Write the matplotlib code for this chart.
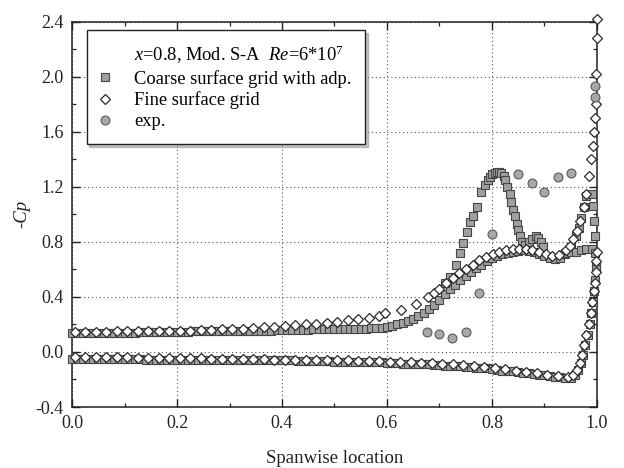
import matplotlib
matplotlib.use("Agg")
import matplotlib.pyplot as plt
from matplotlib.lines import Line2D
from matplotlib.ticker import MultipleLocator

plt.rcParams['font.family'] = ['Liberation Serif', 'DejaVu Serif']
plt.rcParams['mathtext.fontset'] = 'custom'
plt.rcParams['mathtext.rm'] = 'Liberation Serif'
plt.rcParams['mathtext.it'] = 'Liberation Serif:italic'

# ---------------- data ----------------
# Fine surface grid (diamonds)
fine_upper_x = [0.005, 0.025, 0.045, 0.065, 0.085, 0.105, 0.125, 0.145, 0.165, 0.185,
                0.205, 0.225, 0.245, 0.265, 0.285, 0.305, 0.325, 0.345, 0.365, 0.385,
                0.405, 0.425, 0.445, 0.465, 0.485, 0.505, 0.525, 0.545, 0.565, 0.585,
                0.597, 0.627, 0.656, 0.678, 0.690, 0.700, 0.712, 0.725, 0.738, 0.751,
                0.764, 0.776, 0.789, 0.801, 0.814, 0.827, 0.840, 0.852, 0.865, 0.877,
                0.890, 0.903, 0.915, 0.928, 0.941, 0.948, 0.955, 0.962, 0.968, 0.975,
                0.980, 0.985, 0.989, 0.992, 0.994, 0.996, 0.998, 0.999, 1.000, 1.000]
fine_upper_y = [0.145, 0.145, 0.145, 0.145, 0.150, 0.150, 0.150, 0.150, 0.150, 0.150,
                0.155, 0.155, 0.160, 0.160, 0.165, 0.165, 0.170, 0.175, 0.180, 0.185,
                0.190, 0.195, 0.200, 0.205, 0.210, 0.220, 0.230, 0.240, 0.250, 0.265,
                0.280, 0.305, 0.350, 0.400, 0.430, 0.460, 0.500, 0.540, 0.575, 0.605,
                0.635, 0.665, 0.690, 0.710, 0.725, 0.740, 0.745, 0.750, 0.745, 0.740,
                0.725, 0.710, 0.700, 0.705, 0.740, 0.770, 0.820, 0.880, 0.950, 1.050,
                1.150, 1.280, 1.400, 1.500, 1.600, 1.700, 1.800, 2.020, 2.280, 2.420]

fine_lower_x = [0.005, 0.025, 0.045, 0.065, 0.085, 0.105, 0.125, 0.145, 0.165, 0.185,
                0.205, 0.225, 0.245, 0.265, 0.285, 0.305, 0.325, 0.345, 0.365, 0.385,
                0.405, 0.425, 0.445, 0.465, 0.485, 0.505, 0.525, 0.545, 0.565, 0.585,
                0.605, 0.625, 0.645, 0.665, 0.685, 0.705, 0.725, 0.745, 0.765, 0.785,
                0.805, 0.825, 0.845, 0.865, 0.885, 0.905, 0.925, 0.945, 0.955, 0.962,
                0.967, 0.972, 0.976, 0.980, 0.984, 0.988, 0.991, 0.994, 0.996, 0.998,
                0.999, 1.000]
fine_lower_y = [-0.040, -0.040, -0.040, -0.040, -0.040, -0.040, -0.045, -0.045, -0.045, -0.045,
                -0.045, -0.045, -0.045, -0.050, -0.050, -0.050, -0.050, -0.050, -0.050, -0.055,
                -0.055, -0.055, -0.055, -0.060, -0.060, -0.060, -0.060, -0.065, -0.065, -0.065,
                -0.070, -0.070, -0.075, -0.080, -0.080, -0.085, -0.090, -0.095, -0.100, -0.110,
                -0.115, -0.125, -0.135, -0.145, -0.155, -0.165, -0.175, -0.180, -0.165, -0.130,
                -0.080, -0.020, 0.050, 0.120, 0.200, 0.280, 0.360, 0.440, 0.500, 0.580,
                0.660, 0.730]

# Coarse surface grid with adaptation (squares)
coarse_upper_x = [0.00, 0.01, 0.02, 0.03, 0.04, 0.05, 0.06, 0.07, 0.08, 0.09,
                  0.10, 0.11, 0.12, 0.13, 0.14, 0.15, 0.16, 0.17, 0.18, 0.19,
                  0.20, 0.21, 0.22, 0.23, 0.24, 0.25, 0.26, 0.27, 0.28, 0.29,
                  0.30, 0.31, 0.32, 0.33, 0.34, 0.35, 0.36, 0.37, 0.38, 0.39,
                  0.40, 0.41, 0.42, 0.43, 0.44, 0.45, 0.46, 0.47, 0.48, 0.49,
                  0.50, 0.51, 0.52, 0.53, 0.54, 0.55, 0.56, 0.57, 0.58, 0.59]
coarse_upper_y = [0.140, 0.140, 0.140, 0.140, 0.140, 0.140, 0.140, 0.140, 0.140, 0.140,
                  0.140, 0.140, 0.140, 0.145, 0.145, 0.145, 0.145, 0.145, 0.145, 0.145,
                  0.145, 0.145, 0.145, 0.150, 0.150, 0.150, 0.150, 0.150, 0.150, 0.150,
                  0.150, 0.150, 0.155, 0.155, 0.155, 0.155, 0.155, 0.155, 0.155, 0.160,
                  0.160, 0.160, 0.160, 0.160, 0.160, 0.160, 0.165, 0.165, 0.165, 0.165,
                  0.165, 0.165, 0.165, 0.170, 0.170, 0.170, 0.170, 0.175, 0.175, 0.175]

coarse_rise_x = [0.600, 0.610, 0.620, 0.630, 0.640, 0.650, 0.660, 0.670, 0.680, 0.690,
                 0.700, 0.710, 0.720, 0.730, 0.740, 0.750, 0.760, 0.770, 0.780, 0.790,
                 0.800, 0.810, 0.820, 0.830, 0.840, 0.850, 0.860, 0.870, 0.880, 0.890,
                 0.900, 0.910, 0.920, 0.930, 0.940, 0.950, 0.960, 0.965, 0.970, 0.975,
                 0.980]
coarse_rise_y = [0.180, 0.190, 0.200, 0.210, 0.225, 0.240, 0.260, 0.285, 0.315, 0.345,
                 0.380, 0.420, 0.455, 0.490, 0.520, 0.550, 0.580, 0.610, 0.635, 0.660,
                 0.680, 0.695, 0.710, 0.720, 0.730, 0.735, 0.740, 0.735, 0.725, 0.710,
                 0.695, 0.680, 0.675, 0.685, 0.710, 0.760, 0.840, 0.900, 0.970, 1.050,
                 1.130]

coarse_peak_x = [0.710, 0.720, 0.731, 0.739, 0.745, 0.752, 0.758, 0.764, 0.771, 0.780,
                 0.787, 0.793, 0.797, 0.800, 0.805, 0.809, 0.813, 0.818, 0.822, 0.825,
                 0.829, 0.834, 0.837, 0.840, 0.843, 0.847, 0.850, 0.853, 0.857]
coarse_peak_y = [0.500, 0.545, 0.630, 0.720, 0.790, 0.870, 0.945, 0.990, 1.050, 1.160,
                 1.210, 1.250, 1.275, 1.290, 1.300, 1.310, 1.310, 1.300, 1.280, 1.250,
                 1.200, 1.150, 1.090, 1.030, 0.990, 0.930, 0.885, 0.840, 0.800]

coarse_bump_x = [0.862, 0.870, 0.877, 0.883, 0.888, 0.893, 0.898]
coarse_bump_y = [0.780, 0.800, 0.820, 0.840, 0.830, 0.800, 0.760]

coarse_tip_x = [0.940, 0.950, 0.960, 0.970, 0.980, 0.990,
                0.990, 0.993, 0.995, 0.996, 0.997, 0.998]
coarse_tip_y = [0.720, 0.725, 0.730, 0.740, 0.745, 0.750,
                1.150, 1.060, 0.950, 0.840, 0.720, 0.630]

coarse_lower_x = [0.00, 0.01, 0.02, 0.03, 0.04, 0.05, 0.06, 0.07, 0.08, 0.09,
                  0.10, 0.11, 0.12, 0.13, 0.14, 0.15, 0.16, 0.17, 0.18, 0.19,
                  0.20, 0.21, 0.22, 0.23, 0.24, 0.25, 0.26, 0.27, 0.28, 0.29,
                  0.30, 0.31, 0.32, 0.33, 0.34, 0.35, 0.36, 0.37, 0.38, 0.39,
                  0.40, 0.41, 0.42, 0.43, 0.44, 0.45, 0.46, 0.47, 0.48, 0.49,
                  0.50, 0.51, 0.52, 0.53, 0.54, 0.55, 0.56, 0.57, 0.58, 0.59,
                  0.60, 0.61, 0.62, 0.63, 0.64, 0.65, 0.66, 0.67, 0.68, 0.69,
                  0.70, 0.71, 0.72, 0.73, 0.74, 0.75, 0.76, 0.77, 0.78, 0.79,
                  0.80, 0.81, 0.82, 0.83, 0.84, 0.85, 0.86, 0.87, 0.88, 0.89,
                  0.90, 0.91, 0.92, 0.93, 0.94, 0.950, 0.958, 0.964, 0.969, 0.974,
                  0.978, 0.982, 0.986, 0.989, 0.992, 0.994, 0.996, 0.998]
coarse_lower_y = [-0.050, -0.050, -0.050, -0.050, -0.050, -0.050, -0.050, -0.050, -0.050, -0.050,
                  -0.050, -0.050, -0.050, -0.050, -0.055, -0.055, -0.055, -0.055, -0.055, -0.055,
                  -0.055, -0.055, -0.055, -0.055, -0.055, -0.055, -0.055, -0.055, -0.055, -0.055,
                  -0.060, -0.060, -0.060, -0.060, -0.060, -0.060, -0.060, -0.060, -0.060, -0.060,
                  -0.060, -0.060, -0.060, -0.065, -0.065, -0.065, -0.065, -0.065, -0.065, -0.065,
                  -0.070, -0.070, -0.070, -0.070, -0.070, -0.075, -0.075, -0.075, -0.075, -0.075,
                  -0.080, -0.080, -0.080, -0.085, -0.085, -0.085, -0.090, -0.090, -0.090, -0.095,
                  -0.095, -0.100, -0.100, -0.105, -0.105, -0.110, -0.110, -0.115, -0.120, -0.120,
                  -0.125, -0.130, -0.135, -0.140, -0.140, -0.145, -0.150, -0.155, -0.160, -0.165,
                  -0.170, -0.175, -0.180, -0.185, -0.190, -0.190, -0.170, -0.130, -0.080, -0.020,
                  0.050, 0.120, 0.200, 0.280, 0.360, 0.440, 0.520, 0.600]

# Experiment (circles)
exp_x = [0.676, 0.700, 0.723, 0.750, 0.775, 0.800, 0.850, 0.876, 0.900, 0.925, 0.950, 0.997, 0.997]
exp_y = [0.145, 0.130, 0.105, 0.145, 0.425, 0.860, 1.290, 1.225, 1.160, 1.270, 1.300, 1.850, 1.930]

legend_title = r'$x$=0.8, Mod. S-A  $Re$=6*10$^7$'
labels = ['Coarse surface grid with adp.', 'Fine surface grid', 'exp.']
x_ticks = [0.0, 0.2, 0.4, 0.6, 0.8, 1.0]
y_ticks = [-0.4, 0.0, 0.4, 0.8, 1.2, 1.6, 2.0, 2.4]

# ---------------- styles ----------------
sq = dict(linestyle='none', marker='s', markersize=5.4, markerfacecolor='#a0a0a0',
          markeredgecolor='#454545', markeredgewidth=0.8)
di = dict(linestyle='none', marker='D', markersize=5.2, markerfacecolor='white',
          markeredgecolor='#2a2a2a', markeredgewidth=0.9)
ci = dict(linestyle='none', marker='o', markersize=6.4, markerfacecolor='#a8a8a8',
          markeredgecolor='#5a5a5a', markeredgewidth=0.8)

fig = plt.figure(figsize=(6.24, 4.68), dpi=100)
ax = fig.add_subplot(111)
fig.subplots_adjust(left=0.1154, right=0.9567, bottom=0.1303, top=0.9536)

for xs, ys in [(coarse_upper_x, coarse_upper_y), (coarse_rise_x, coarse_rise_y),
               (coarse_peak_x, coarse_peak_y), (coarse_bump_x, coarse_bump_y),
               (coarse_tip_x, coarse_tip_y), (coarse_lower_x, coarse_lower_y)]:
    ax.plot(xs, ys, clip_on=False, zorder=3, **sq)
for xs, ys in [(fine_upper_x, fine_upper_y), (fine_lower_x, fine_lower_y)]:
    ax.plot(xs, ys, clip_on=False, zorder=4, **di)
ax.plot(exp_x, exp_y, clip_on=False, zorder=5, **ci)

ax.set_xlim(0.0, 1.0)
ax.set_ylim(-0.4, 2.4)
ax.set_xticks(x_ticks)
ax.set_yticks(y_ticks)
ax.set_xticklabels([f'{v:.1f}' for v in x_ticks])
ax.set_yticklabels([f'{v:.1f}' for v in y_ticks])
ax.xaxis.set_minor_locator(MultipleLocator(0.1))
ax.yaxis.set_minor_locator(MultipleLocator(0.2))
ax.tick_params(which='both', direction='in', top=True, right=True, labelsize=13, colors='#222222')
ax.tick_params(which='major', length=6, width=1.0)
ax.tick_params(which='minor', length=3, width=0.9)
ax.tick_params(axis='x', pad=6)
ax.tick_params(axis='y', pad=6)
for s in ax.spines.values():
    s.set_linewidth(1.1)
    s.set_color('#222222')
ax.grid(True, which='major', linestyle=(0, (1, 2.5)), color='#555555', linewidth=0.8)
ax.set_axisbelow(True)

ax.set_xlabel('Spanwise location', fontsize=13.5, labelpad=13, color='#222222')
ax.set_ylabel('-Cp', fontsize=13.5, style='italic', labelpad=4, color='#222222')

handles = [Line2D([], [], linestyle='none'), Line2D([], [], **sq),
           Line2D([], [], **di), Line2D([], [], **ci)]
leg = ax.legend(handles, [legend_title] + labels, loc='upper left',
                bbox_to_anchor=(0.028, 0.978), borderaxespad=0, fontsize=13.3,
                frameon=True, fancybox=False, shadow={'color': '#8c8c8c'},
                borderpad=0.75, handlelength=0.5, handletextpad=1.3,
                labelspacing=0.2, framealpha=1)
leg.get_frame().set_edgecolor('#222222')
leg.get_frame().set_linewidth(1.0)
leg.set_zorder(10)

fig.savefig('out.png', dpi=100)
